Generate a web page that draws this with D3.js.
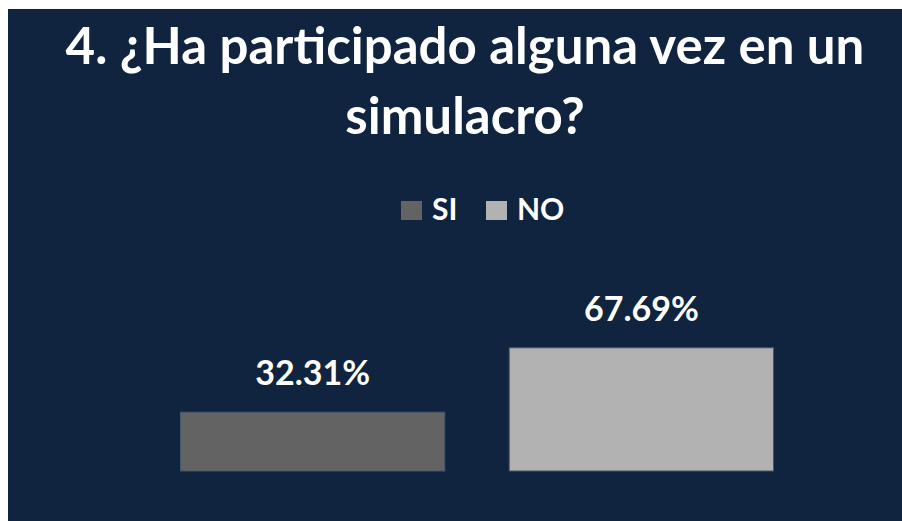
<!DOCTYPE html>
<html>
<head>
<meta charset="utf-8">
<script src="https://cdn.jsdelivr.net/npm/d3@7"></script>
<style>
  body { margin: 0; background: #fff; }
  svg text { font-family: Lato, 'Open Sans', sans-serif; font-weight: bold; fill: #fff; }
</style>
</head>
<body>
<div id="chart"></div>
<script>
const categories = ['SI', 'NO'];
const values = [32.31, 67.69];
const colors = ['#636363', '#b2b2b2'];
const titleLines = ['4. ¿Ha participado alguna vez en un', 'simulacro?'];

const width = 902;
const height = 521;

const svg = d3.select('#chart').append('svg')
  .attr('width', width)
  .attr('height', height);

// navy panel
svg.append('rect')
  .attr('x', 8).attr('y', 9)
  .attr('width', width - 8).attr('height', height - 9)
  .attr('fill', '#10233f');

// title
svg.append('g').selectAll('text')
  .data(titleLines)
  .join('text')
  .attr('x', 465)
  .attr('y', (d, i) => 64 + i * 70)
  .attr('text-anchor', 'middle')
  .style('font-size', '51px')
  .text((d) => d);

// legend
const legend = svg.append('g').attr('class', 'legend');
const legendX = [401, 486];
categories.forEach((c, i) => {
  legend.append('rect')
    .attr('x', legendX[i]).attr('y', 201)
    .attr('width', 21).attr('height', 19)
    .attr('fill', colors[i]);
  legend.append('text')
    .attr('x', legendX[i] + 31)
    .attr('y', 220)
    .style('font-size', '30px')
    .text(c);
});

// scales
const x = d3.scaleBand()
  .domain(categories)
  .range([116, 838])
  .paddingInner(0.196)
  .paddingOuter(0.196);

const y = d3.scaleLinear()
  .domain([0, 100])
  .range([471, 289]);

const bars = svg.append('g').attr('class', 'bars');
bars.selectAll('rect')
  .data(categories)
  .join('rect')
  .attr('x', (d) => x(d))
  .attr('y', (d, i) => y(values[i]))
  .attr('width', x.bandwidth())
  .attr('height', (d, i) => y(0) - y(values[i]))
  .attr('fill', (d, i) => colors[i])
  .attr('stroke', '#46566e')
  .attr('stroke-width', 1);

bars.selectAll('text')
  .data(categories)
  .join('text')
  .attr('x', (d) => x(d) + x.bandwidth() / 2)
  .attr('y', (d, i) => y(values[i]) - 27)
  .attr('text-anchor', 'middle')
  .style('font-size', '34px')
  .text((d, i) => values[i].toFixed(2) + '%');
</script>
</body>
</html>
